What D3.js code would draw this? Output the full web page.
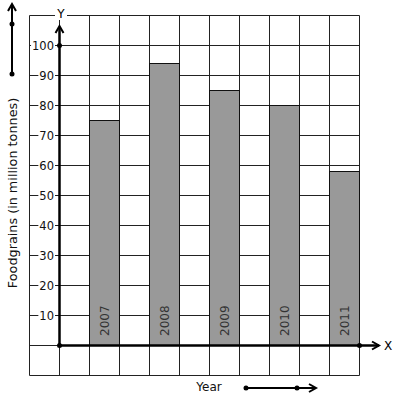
<!DOCTYPE html>
<html>
<head>
<meta charset="utf-8">
<script src="https://cdn.jsdelivr.net/npm/d3@7"></script>
<style>
  body { margin: 0; background: #fff; }
  svg { display: block; font-family: "DejaVu Sans", sans-serif; }
</style>
</head>
<body>
<div id="chart"></div>
<script>
// Data
let years = ["2007", "2008", "2009", "2010", "2011"];
let foodgrains = [75, 94, 85, 80, 58];
let yTicks = [10, 20, 30, 40, 50, 60, 70, 80, 90, 100];

let width = 397;
let height = 401;

let svg = d3.select("#chart")
  .append("svg")
  .attr("width", width)
  .attr("height", height);

// one grid square = 30px; x in grid units with the y axis at 0
let x = d3.scaleLinear().domain([-1, 10]).range([29.5, 359.5]);
let y = d3.scaleLinear().domain([0, 100]).range([345.5, 45.5]);

// grid
let grid = svg.append("g").attr("stroke", "#222").attr("stroke-width", 1);
d3.range(-1, 11).forEach(i => {
  grid.append("line")
    .attr("x1", x(i)).attr("x2", x(i))
    .attr("y1", y(110)).attr("y2", y(-10));
});
d3.range(-10, 111, 10).forEach(v => {
  grid.append("line")
    .attr("x1", x(-1)).attr("x2", x(10))
    .attr("y1", y(v)).attr("y2", y(v));
});

// bars
svg.append("g")
  .selectAll("rect")
  .data(foodgrains)
  .enter()
  .append("rect")
    .attr("x", (d, i) => x(2 * i + 1))
    .attr("y", d => y(d))
    .attr("width", x(2) - x(1))
    .attr("height", d => y(0) - y(d))
    .attr("fill", "#999")
    .attr("stroke", "#111")
    .attr("stroke-width", 1);

// year labels inside the bars
svg.append("g")
  .selectAll("text")
  .data(years)
  .enter()
  .append("text")
    .attr("transform", (d, i) => "translate(" + (x(2 * i + 1.5) + 4) + "," + 336 + ") rotate(-90)")
    .attr("font-size", 12)
    .attr("fill", "#333")
    .text(d => d);

// tick labels on a white box so the grid line looks like a dash
let ticks = svg.append("g");
yTicks.forEach(v => {
  let t = ticks.append("text")
    .attr("x", 54)
    .attr("y", y(v) + 4)
    .attr("text-anchor", "end")
    .attr("font-size", 11.5)
    .attr("fill", "#111")
    .text(v);
  let b = t.node().getBBox();
  ticks.insert("rect", "text")
    .attr("x", b.x - 1).attr("y", b.y + 2)
    .attr("width", b.width + 2).attr("height", b.height - 4)
    .attr("fill", "#fff");
});

// axes
function arrowHead(g, tx, ty, dir) {
  // dir: "up" or "right"
  let p = dir === "up"
    ? [[tx - 4, ty + 7], [tx, ty], [tx + 4, ty + 7]]
    : [[tx - 7, ty - 4], [tx, ty], [tx - 7, ty + 4]];
  g.append("path")
    .attr("d", d3.line()(p))
    .attr("fill", "none")
    .attr("stroke", "#000")
    .attr("stroke-width", 2);
}

let axes = svg.append("g");
axes.append("line")
  .attr("x1", x(0)).attr("x2", x(0))
  .attr("y1", y(0)).attr("y2", 27)
  .attr("stroke", "#000").attr("stroke-width", 2.5);
arrowHead(axes, x(0), 26, "up");
axes.append("line")
  .attr("x1", x(0)).attr("x2", 379)
  .attr("y1", y(0)).attr("y2", y(0))
  .attr("stroke", "#000").attr("stroke-width", 2.5);
arrowHead(axes, 379, y(0), "right");
[[x(0), y(0)], [x(0), y(100)], [x(10), y(0)]].forEach(p => {
  axes.append("circle").attr("cx", p[0]).attr("cy", p[1]).attr("r", 2.5).attr("fill", "#000");
});

// axis letters
svg.append("rect").attr("x", 55).attr("y", 8).attr("width", 12).attr("height", 12).attr("fill", "#fff");
svg.append("text")
  .attr("x", 61).attr("y", 18)
  .attr("text-anchor", "middle")
  .attr("font-size", 12)
  .text("Y");
svg.append("text")
  .attr("x", 388).attr("y", 350)
  .attr("text-anchor", "middle")
  .attr("font-size", 12)
  .text("X");

// titles
svg.append("text")
  .attr("transform", "translate(17,193) rotate(-90)")
  .attr("text-anchor", "middle")
  .attr("font-size", 12.8)
  .attr("fill", "#111")
  .text("Foodgrains (in million tonnes)");
svg.append("text")
  .attr("x", 209).attr("y", 391)
  .attr("text-anchor", "middle")
  .attr("font-size", 12)
  .attr("fill", "#111")
  .text("Year");

// direction arrows next to the titles
let side = svg.append("g");
side.append("line")
  .attr("x1", 12).attr("x2", 12).attr("y1", 74).attr("y2", 5)
  .attr("stroke", "#000").attr("stroke-width", 2);
arrowHead(side, 12, 4, "up");
side.append("circle").attr("cx", 12).attr("cy", 74).attr("r", 2.5);
side.append("circle").attr("cx", 12).attr("cy", 24).attr("r", 2.5);

side.append("line")
  .attr("x1", 246).attr("x2", 315).attr("y1", 388).attr("y2", 388)
  .attr("stroke", "#000").attr("stroke-width", 2);
arrowHead(side, 316, 388, "right");
side.append("circle").attr("cx", 246).attr("cy", 388).attr("r", 2.5);
side.append("circle").attr("cx", 297).attr("cy", 388).attr("r", 2.5);
</script>
</body>
</html>
